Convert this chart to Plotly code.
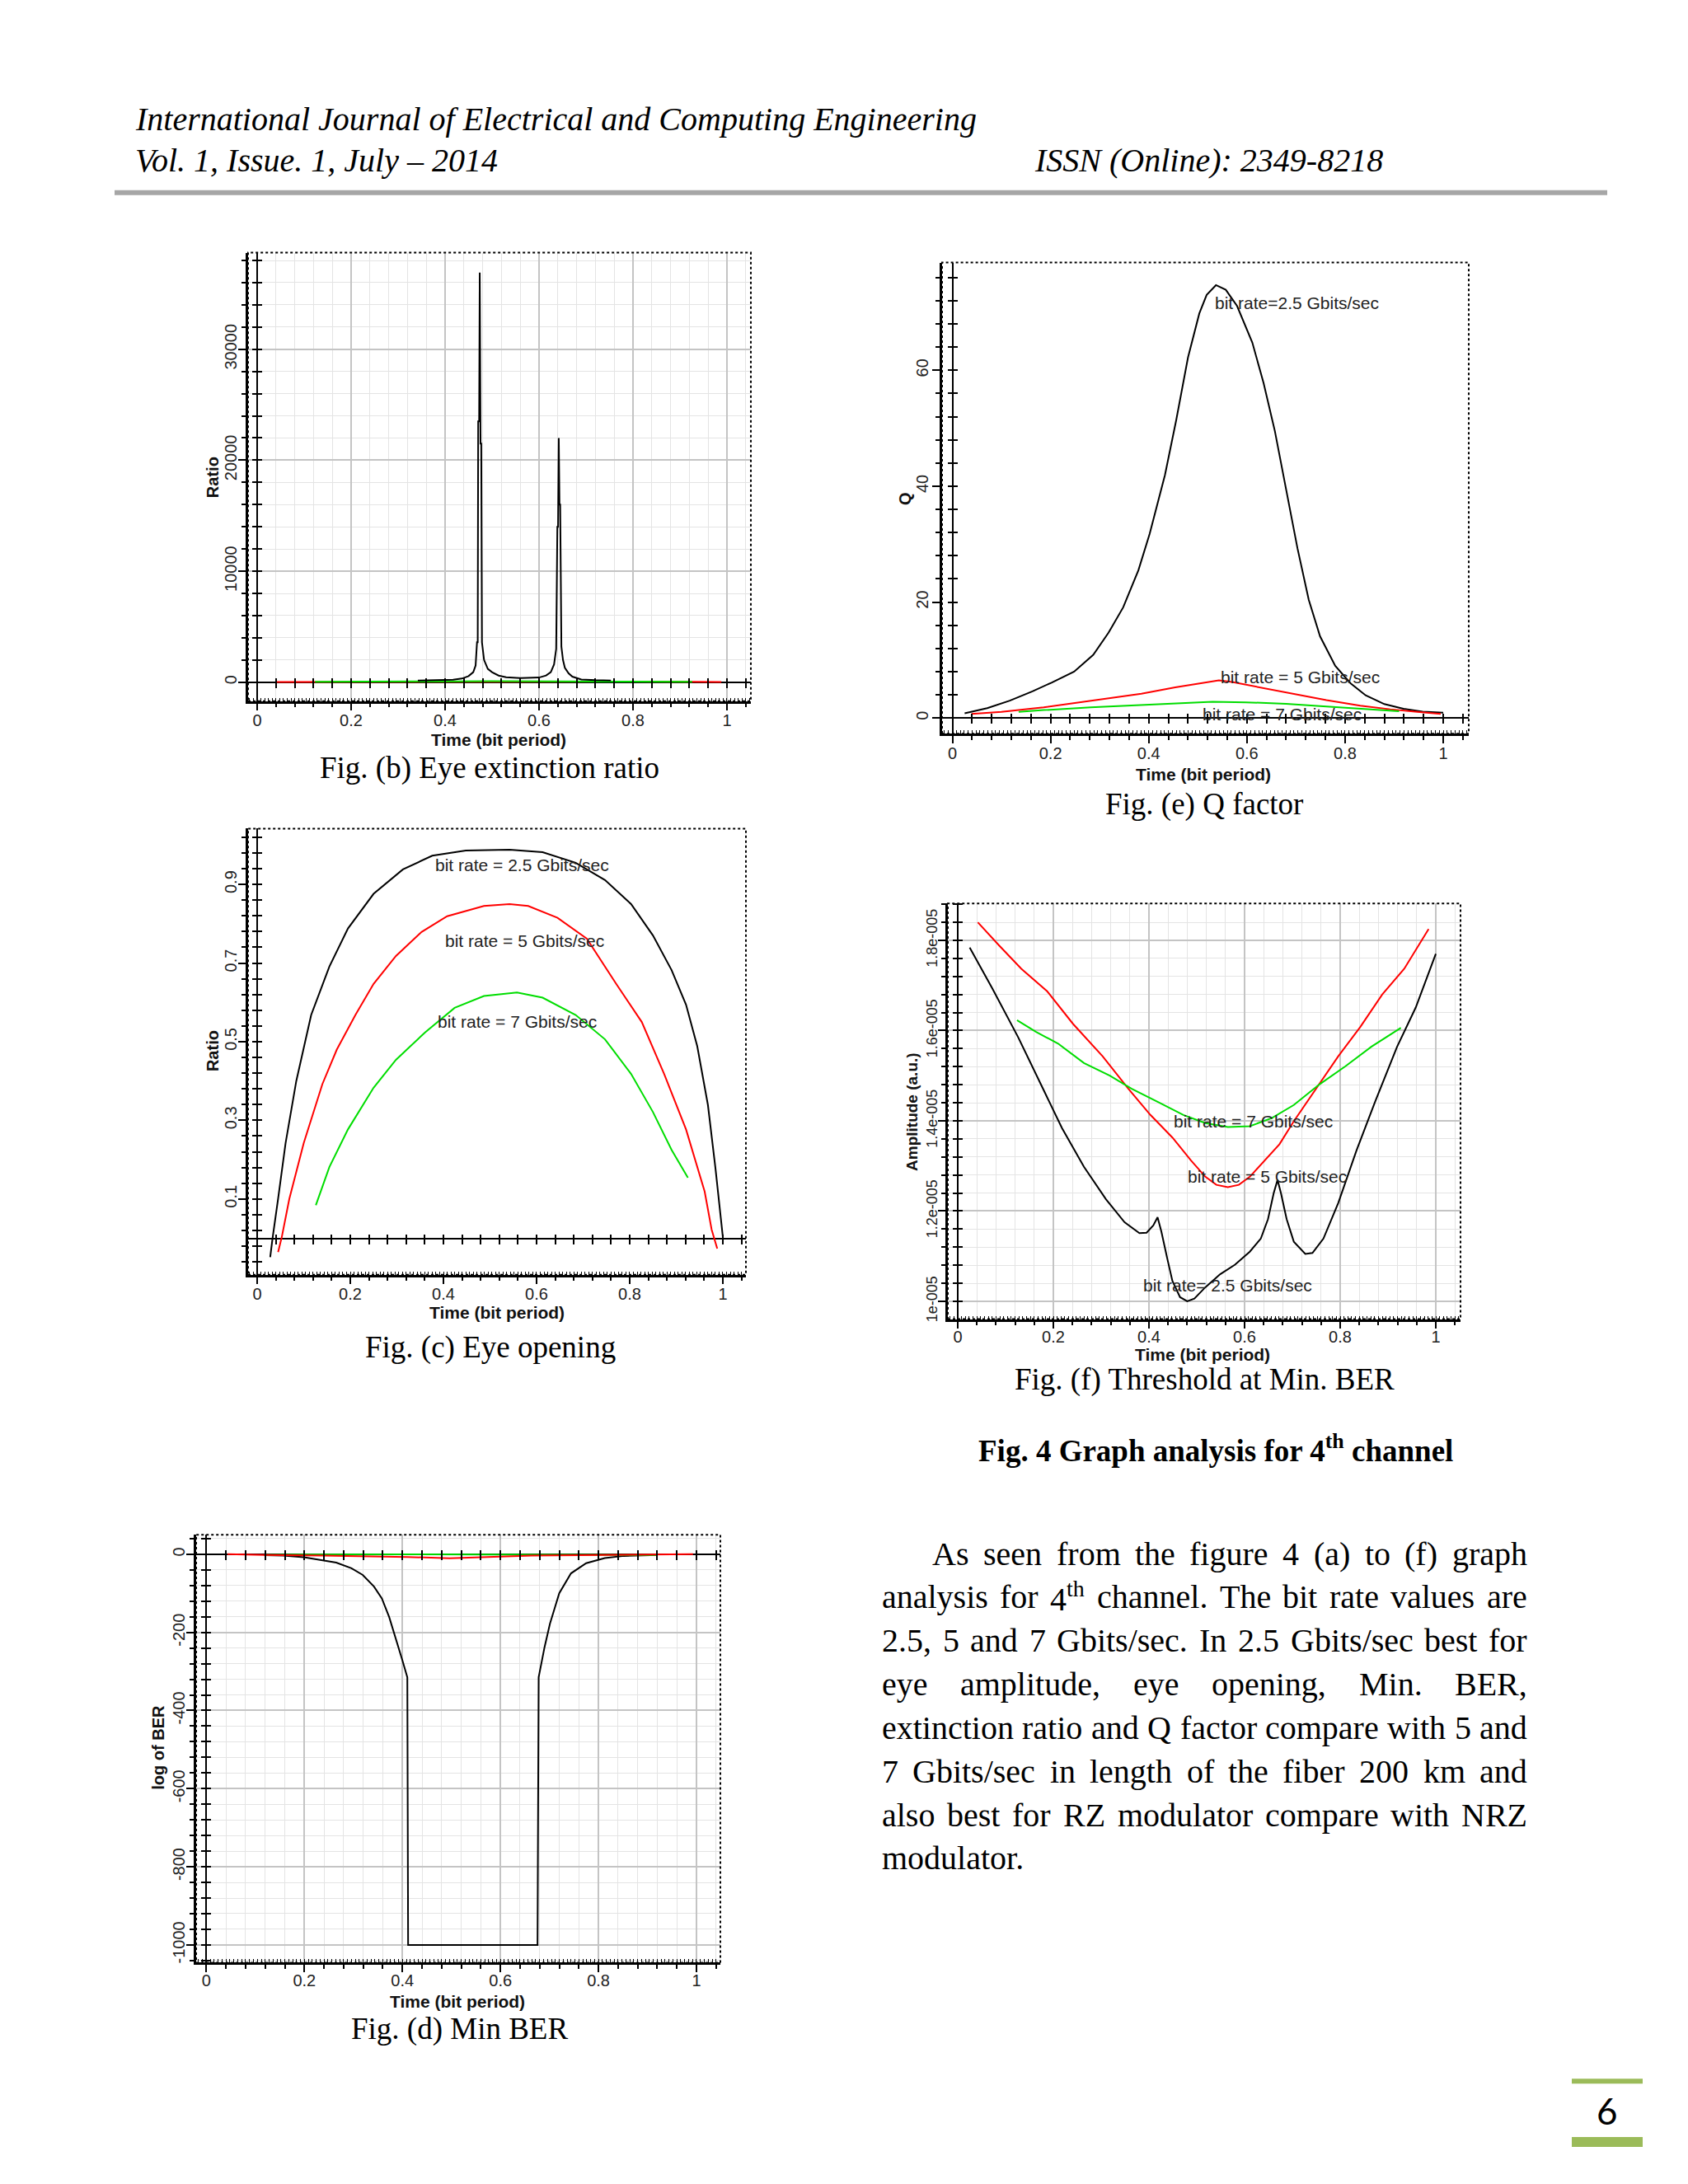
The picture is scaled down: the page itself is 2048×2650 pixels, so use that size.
import re
import plotly.graph_objects as go

# page size; the browser body adds an 8 px margin, so the figure is drawn 8 px in
PAGE_W, PAGE_H = 2048, 2650
OFF = 8
W, H = PAGE_W - 2 * OFF, PAGE_H - 2 * OFF

# ---------------- data ----------------
# Fig (b) Eye extinction ratio
er_time_25 = [0.342, 0.38, 0.417, 0.436, 0.45, 0.46, 0.465, 0.468, 0.4695, 0.4705, 0.4725, 0.4738, 0.4755, 0.477, 0.4785,
              0.483, 0.491, 0.50, 0.514, 0.53, 0.56, 0.60, 0.615, 0.625, 0.632, 0.6365, 0.639, 0.6405, 0.642, 0.6435,
              0.645, 0.6476, 0.651, 0.655, 0.663, 0.671, 0.69, 0.72, 0.753]
er_ratio_25 = [150, 180, 230, 330, 550, 900, 1500, 3600, 3600, 23500, 23500, 36900, 21500, 21500, 3600,
               2000, 1200, 900, 600, 450, 380, 420, 600, 900, 1600, 3000, 14000, 14000, 22000, 16000,
               16000, 3200, 2000, 1300, 800, 500, 250, 180, 150]
er_time_5 = [0.042, 0.123, 0.342, 0.5, 0.753, 0.926, 0.988]
er_ratio_5 = [20, 30, 60, 80, 60, 30, 20]
er_time_7 = [0.123, 0.342, 0.5, 0.753, 0.926]
er_ratio_7 = [30, 60, 90, 60, 30]

# Fig (e) Q factor
q_time_25 = [0.025, 0.071, 0.117, 0.163, 0.202, 0.248, 0.287, 0.318, 0.348, 0.379, 0.402, 0.433, 0.456, 0.48,
             0.503, 0.518, 0.537, 0.557, 0.58, 0.611, 0.634, 0.657, 0.68, 0.703, 0.726, 0.749, 0.78, 0.811,
             0.842, 0.88, 0.919, 0.958, 1.0]
q_25 = [0.8, 1.7, 3.0, 4.6, 6.1, 8.0, 10.9, 14.7, 19.1, 25.5, 31.8, 41.9, 51.4, 62.2, 69.8, 73.0, 74.7, 73.9,
        71.1, 64.8, 57.8, 49.5, 39.4, 29.3, 20.4, 14.1, 9.0, 6.0, 3.9, 2.4, 1.6, 1.1, 0.9]
q_time_5 = [0.039, 0.1, 0.186, 0.282, 0.385, 0.454, 0.509, 0.543, 0.57, 0.625, 0.694, 0.762, 0.831, 0.892,
            0.947, 0.995]
q_5 = [0.71, 1.04, 1.84, 2.93, 4.2, 5.3, 6.0, 6.5, 6.2, 5.3, 4.1, 3.07, 2.13, 1.5, 1.04, 0.71]
q_time_7 = [0.135, 0.186, 0.282, 0.385, 0.454, 0.53, 0.598, 0.68, 0.762, 0.831, 0.91]
q_7 = [1.04, 1.36, 1.84, 2.2, 2.46, 2.79, 2.7, 2.46, 1.98, 1.6, 1.18]

# Fig (c) Eye opening
eo_time_25 = [0.028, 0.033, 0.045, 0.061, 0.084, 0.116, 0.155, 0.195, 0.25, 0.313, 0.376, 0.448, 0.542, 0.613,
              0.684, 0.747, 0.803, 0.85, 0.89, 0.921, 0.945, 0.968, 0.984, 1.0]
eo_25 = [-0.048, 0.0, 0.101, 0.242, 0.4, 0.568, 0.691, 0.788, 0.876, 0.938, 0.973, 0.986, 0.988, 0.982, 0.955,
         0.911, 0.85, 0.77, 0.682, 0.594, 0.489, 0.339, 0.18, 0.004]
eo_time_5 = [0.045, 0.053, 0.069, 0.1, 0.14, 0.171, 0.211, 0.25, 0.298, 0.353, 0.408, 0.487, 0.542, 0.582,
             0.645, 0.708, 0.771, 0.826, 0.874, 0.921, 0.961, 0.976, 0.988]
eo_5 = [-0.035, 0.004, 0.1, 0.242, 0.392, 0.48, 0.568, 0.647, 0.718, 0.779, 0.819, 0.845, 0.85, 0.845, 0.815,
        0.762, 0.647, 0.55, 0.418, 0.277, 0.119, 0.022, -0.026]
eo_time_7 = [0.126, 0.155, 0.195, 0.25, 0.298, 0.361, 0.424, 0.487, 0.558, 0.613, 0.684, 0.747, 0.803, 0.85,
             0.89, 0.925]
eo_7 = [0.084, 0.181, 0.277, 0.383, 0.454, 0.524, 0.586, 0.616, 0.625, 0.612, 0.568, 0.506, 0.418, 0.321,
        0.225, 0.154]

# Fig (f) Threshold at Min. BER
th_time_25 = [0.025, 0.072, 0.126, 0.172, 0.218, 0.264, 0.31, 0.349, 0.38, 0.395, 0.409, 0.418, 0.426, 0.438,
              0.449, 0.465, 0.48, 0.495, 0.518, 0.549, 0.58, 0.611, 0.634, 0.649, 0.661, 0.669, 0.676, 0.688,
              0.703, 0.727, 0.742, 0.765, 0.796, 0.834, 0.873, 0.919, 0.958, 1.0]
th_25 = [1.784e-5, 1.694e-5, 1.586e-5, 1.485e-5, 1.384e-5, 1.298e-5, 1.226e-5, 1.175e-5, 1.151e-5, 1.152e-5,
         1.168e-5, 1.186e-5, 1.154e-5, 1.096e-5, 1.045e-5, 1.009e-5, 1.000e-5, 1.006e-5, 1.031e-5, 1.060e-5,
         1.081e-5, 1.110e-5, 1.139e-5, 1.182e-5, 1.240e-5, 1.269e-5, 1.240e-5, 1.182e-5, 1.132e-5, 1.105e-5,
         1.107e-5, 1.139e-5, 1.218e-5, 1.334e-5, 1.442e-5, 1.564e-5, 1.651e-5, 1.770e-5]
th_time_5 = [0.042, 0.087, 0.133, 0.187, 0.241, 0.303, 0.357, 0.403, 0.449, 0.488, 0.518, 0.541, 0.565, 0.588,
             0.611, 0.642, 0.673, 0.703, 0.75, 0.796, 0.842, 0.888, 0.934, 0.985]
th_5 = [1.840e-5, 1.788e-5, 1.737e-5, 1.687e-5, 1.615e-5, 1.543e-5, 1.471e-5, 1.413e-5, 1.363e-5, 1.312e-5,
        1.276e-5, 1.258e-5, 1.253e-5, 1.258e-5, 1.276e-5, 1.312e-5, 1.348e-5, 1.399e-5, 1.471e-5, 1.543e-5,
        1.608e-5, 1.680e-5, 1.737e-5, 1.825e-5]
th_time_7 = [0.124, 0.164, 0.21, 0.264, 0.318, 0.364, 0.418, 0.472, 0.518, 0.565, 0.611, 0.657, 0.703, 0.757,
             0.811, 0.865, 0.927]
th_7 = [1.623e-5, 1.597e-5, 1.571e-5, 1.528e-5, 1.500e-5, 1.471e-5, 1.442e-5, 1.413e-5, 1.395e-5, 1.386e-5,
        1.388e-5, 1.406e-5, 1.435e-5, 1.481e-5, 1.521e-5, 1.564e-5, 1.606e-5]

# Fig (d) Min BER
ber_time_25 = [0.118, 0.157, 0.199, 0.234, 0.265, 0.296, 0.319, 0.342, 0.358, 0.373, 0.388, 0.4, 0.41, 0.4116,
               0.6757, 0.6765, 0.678, 0.69, 0.701, 0.72, 0.744, 0.775, 0.813, 0.852, 0.921]
ber_25 = [-2.6, -3.4, -7.7, -14.6, -21.5, -36, -53, -83, -113, -161, -221, -272, -315, -1000,
          -1000, -663, -315, -238, -178, -100, -49, -23, -10, -4.3, -1.7]
ber_time_5 = [0.043, 0.118, 0.238, 0.41, 0.496, 0.588, 0.664, 0.812, 0.921, 0.993]
ber_5 = [0, -2, -3.5, -7, -10.4, -7, -3.5, -2, 0, 0]
ber_time_7 = [0.118, 0.2, 0.41, 0.698, 0.853, 0.921]
ber_7 = [-2, -1, -0.5, -1, -2, -2]

# tick labels
x_tick_vals = [0, 0.2, 0.4, 0.6, 0.8, 1]
er_tick_vals = [0, 10000, 20000, 30000]
er_tick_text = ['0', '10000', '20000', '30000']
q_tick_vals = [0, 20, 40, 60]
q_tick_text = ['0', '20', '40', '60']
eo_tick_vals = [0.1, 0.3, 0.5, 0.7, 0.9]
eo_tick_text = ['0.1', '0.3', '0.5', '0.7', '0.9']
th_tick_vals = [1.0e-5, 1.2e-5, 1.4e-5, 1.6e-5, 1.8e-5]
th_tick_text = ['1e-005', '1.2e-005', '1.4e-005', '1.6e-005', '1.8e-005']
ber_tick_vals = [0, -200, -400, -600, -800, -1000]
ber_tick_text = ['0', '-200', '-400', '-600', '-800', '-1000']

# ---------------- styles ----------------
BLACK, RED, GREEN = '#000000', '#ff0000', '#00dd00'
SERIF = 'Liberation Serif, Times New Roman, serif'
SANS = 'Liberation Sans, Arial, sans-serif'
TICK_FONT = dict(family=SANS, size=20, color='#222222')
LABEL_FONT = dict(family=SANS, size=21, color='#222222')
TITLE_FONT = dict(family=SANS, size=21, color='#111111')
GRID_MAJ, GRID_MIN = '#c4c4c4', '#e4e4e4'

fig = go.Figure()
axes = {}
annotations = []
shapes = []
count = {'x': 0, 'y': 0}


def new_axis(kind):
    count[kind] += 1
    n = count[kind]
    return (f'{kind}axis' if n == 1 else f'{kind}axis{n}'), (kind if n == 1 else f'{kind}{n}')


def px_x(px):
    return (px - OFF) / W


def px_y(py):
    return 1 - (py - OFF) / H


def panel(p):
    L, R, T, B = p['frame']
    xr, yr = p['xr'], p['yr']
    grid = p['grid']
    xk, xref = new_axis('x')
    yk, yref = new_axis('y')
    tick_common = dict(tickwidth=1.5, tickcolor='black')
    axes[xk] = dict(domain=[px_x(L), px_x(R)], range=xr, anchor=yref, side='bottom', fixedrange=True,
                    showline=True, linecolor='black', linewidth=2.5,
                    tickmode='array', tickvals=x_tick_vals, ticks='outside', ticklen=9,
                    tickfont=TICK_FONT, ticklabelstandoff=p.get('xstand', -5),
                    showgrid=grid, gridcolor=GRID_MAJ, gridwidth=1.5,
                    zeroline=True, zerolinecolor='black', zerolinewidth=2,
                    minor=dict(tickmode='linear', tick0=0, dtick=0.04, ticks='outside', ticklen=5,
                               showgrid=grid, gridcolor=GRID_MIN, gridwidth=1, **tick_common),
                    **tick_common)
    axes[yk] = dict(domain=[px_y(B), px_y(T)], range=yr, anchor=xref, side='left', fixedrange=True,
                    showline=True, linecolor='black', linewidth=2.5,
                    tickmode='array', tickvals=p['yvals'], ticktext=p['ytext'], tickangle=-90,
                    ticks='outside', ticklen=9, tickfont=p.get('ytickfont', TICK_FONT),
                    ticklabelstandoff=p.get('ystand', -6),
                    showgrid=grid, gridcolor=GRID_MAJ, gridwidth=1.5,
                    zeroline=(yr[0] < 0 < yr[1]), zerolinecolor='black', zerolinewidth=2,
                    minor=dict(tickmode='linear', tick0=p['ymin0'], dtick=p['ymind'], ticks='outside', ticklen=5,
                               showgrid=grid, gridcolor=GRID_MIN, gridwidth=1, **tick_common),
                    **tick_common)
    # fine ticks along the bottom frame
    fk, fref = new_axis('x')
    axes[fk] = dict(overlaying=xref, anchor=yref, side='bottom', range=xr, fixedrange=True,
                    showline=False, showgrid=False, zeroline=False, showticklabels=False,
                    tickmode='linear', tick0=0, dtick=0.008, ticks='inside', ticklen=4,
                    tickwidth=1.2, tickcolor='black')
    fig.add_trace(go.Scatter(x=[], y=[], xaxis=fref, yaxis=yref, showlegend=False, hoverinfo='skip'))
    # ticks crossing the zero lines
    px0 = L + (0 - xr[0]) / (xr[1] - xr[0]) * (R - L)
    if yr[0] < 0 < yr[1]:
        py0 = T + (yr[1] - 0) / (yr[1] - yr[0]) * (B - T)
        ck, cref = new_axis('x')
        axes[ck] = dict(overlaying=xref, anchor='free', position=px_y(py0 - 6), side='bottom', range=xr,
                        fixedrange=True, showline=False, showgrid=False, zeroline=False,
                        showticklabels=False, tickmode='linear', tick0=0, dtick=0.04,
                        ticks='outside', ticklen=12, tickwidth=1.5, tickcolor='black')
        fig.add_trace(go.Scatter(x=[], y=[], xaxis=cref, yaxis=yref, showlegend=False, hoverinfo='skip'))
    ck, cref = new_axis('y')
    axes[ck] = dict(overlaying=yref, anchor='free', position=px_x(px0 + 6), side='left', range=yr,
                    fixedrange=True, showline=False, showgrid=False, zeroline=False,
                    showticklabels=False, tickmode='linear', tick0=p['ymin0'], dtick=p['ymind'],
                    ticks='outside', ticklen=12, tickwidth=1.5, tickcolor='black')
    fig.add_trace(go.Scatter(x=[], y=[], xaxis=xref, yaxis=cref, showlegend=False, hoverinfo='skip'))

    for xs, ys, col in p['series']:
        fig.add_trace(go.Scatter(x=xs, y=ys, mode='lines', line=dict(color=col, width=2),
                                 xaxis=xref, yaxis=yref, showlegend=False, hoverinfo='skip'))
    for txt, lx, ly in p.get('labels', []):
        annotations.append(dict(text=txt, x=lx, y=ly, xref=xref, yref=yref, xanchor='left',
                                yanchor='middle', showarrow=False, font=LABEL_FONT))
    # dotted frame
    shapes.append(dict(type='rect', xref='paper', yref='paper', x0=px_x(L), x1=px_x(R), y0=px_y(B),
                       y1=px_y(T), line=dict(color='black', width=2, dash='dot'), layer='above'))
    # axis titles
    tx, ty = p['xtitle_pos']
    annotations.append(dict(text='<b>Time (bit period)</b>', x=px_x(tx), y=px_y(ty), xref='paper',
                            yref='paper', xanchor='center', yanchor='middle', showarrow=False, font=TITLE_FONT))
    tx, ty = p['ytitle_pos']
    annotations.append(dict(text=f"<b>{p['ytitle']}</b>", x=px_x(tx), y=px_y(ty), xref='paper', yref='paper',
                            xanchor='center', yanchor='middle', showarrow=False, textangle=-90,
                            font=dict(TITLE_FONT, size=p.get('ytitle_size', 20))))


panels = [
    dict(frame=(301, 911, 307, 852), xr=[-0.0193, 1.0509], yr=[-1705, 38704], grid=True,
         yvals=er_tick_vals, ytext=er_tick_text, ymin0=0, ymind=2000,
         series=[(er_time_5, er_ratio_5, RED), (er_time_7, er_ratio_7, GREEN), (er_time_25, er_ratio_25, BLACK)],
         xtitle_pos=(605, 899), ytitle_pos=(258, 580), ytitle='Ratio'),
    dict(frame=(1143, 1782, 319, 891.5), xr=[-0.021, 1.052], yr=[-2.7, 78.6], grid=False,
         yvals=q_tick_vals, ytext=q_tick_text, ymin0=0, ymind=4, ystand=-3,
         series=[(q_time_25, q_25, BLACK), (q_time_5, q_5, RED), (q_time_7, q_7, GREEN)],
         labels=[('bit rate=2.5 Gbits/sec', 0.532, 71.6), ('bit rate = 5 Gbits/sec', 0.543, 7.0),
                 ('bit rate = 7 Gbits/sec', 0.507, 0.7)],
         xtitle_pos=(1460, 941), ytitle_pos=(1098, 606), ytitle='Q'),
    dict(frame=(301, 905, 1007, 1549), xr=[-0.0195, 1.0496], yr=[-0.0925, 1.0417], grid=False,
         yvals=eo_tick_vals, ytext=eo_tick_text, ymin0=0.1, ymind=0.04,
         series=[(eo_time_25, eo_25, BLACK), (eo_time_5, eo_5, RED), (eo_time_7, eo_7, GREEN)],
         labels=[('bit rate = 2.5 Gbits/sec', 0.378, 0.949), ('bit rate = 5 Gbits/sec', 0.40, 0.757),
                 ('bit rate = 7 Gbits/sec', 0.384, 0.552)],
         xtitle_pos=(603, 1595), ytitle_pos=(258, 1277), ytitle='Ratio'),
    dict(frame=(1150, 1772, 1098, 1603), xr=[-0.0207, 1.0517], yr=[0.9604e-5, 1.8815e-5], grid=True,
         yvals=th_tick_vals, ytext=th_tick_text, ymin0=1.0e-5, ymind=0.04e-5, xstand=-7,
         ytickfont=dict(TICK_FONT, size=18),
         series=[(th_time_25, th_25, BLACK), (th_time_5, th_5, RED), (th_time_7, th_7, GREEN)],
         labels=[('bit rate = 7 Gbits/sec', 0.449, 1.399e-5), ('bit rate = 5 Gbits/sec', 0.478, 1.276e-5),
                 ('bit rate= 2.5 Gbits/sec', 0.384, 1.035e-5)],
         xtitle_pos=(1459, 1646), ytitle_pos=(1107, 1351), ytitle='Amplitude (a.u.)', ytitle_size=19),
    dict(frame=(238, 874, 1865, 2385), xr=[-0.0209, 1.0488], yr=[-1045.3, 49.9], grid=True,
         yvals=ber_tick_vals, ytext=ber_tick_text, ymin0=0, ymind=40, xstand=-7,
         series=[(ber_time_25, ber_25, BLACK), (ber_time_7, ber_7, GREEN), (ber_time_5, ber_5, RED)],
         xtitle_pos=(555, 2432), ytitle_pos=(192, 2124), ytitle='log of BER'),
]
for p in panels:
    panel(p)


def text_at(txt, x, y, size, anchor='left', family=SERIF, color='black'):
    annotations.append(dict(text=txt, x=px_x(x), y=px_y(y), xref='paper', yref='paper', xanchor=anchor,
                            yanchor='middle', showarrow=False, font=dict(family=family, size=size, color=color)))


# header
text_at('<i>International Journal of Electrical and Computing Engineering</i>', 162, 145, 40)
text_at('<i>Vol. 1, Issue. 1, July – 2014</i>', 162, 195, 40)
text_at('<i>ISSN (Online): 2349-8218</i>', 1253, 195, 40)
shapes.append(dict(type='rect', xref='paper', yref='paper', x0=px_x(139), x1=px_x(1950), y0=px_y(237),
                   y1=px_y(231), line=dict(width=0), fillcolor='#a6a6a6'))

# captions
text_at('Fig. (b) Eye extinction ratio', 594, 933, 37, 'center')
text_at('Fig. (e) Q factor', 1461, 977, 37, 'center')
text_at('Fig. (c) Eye opening', 595, 1637, 37, 'center')
text_at('Fig. (f) Threshold at Min. BER', 1461, 1677, 37, 'center')
text_at('Fig. (d) Min BER', 557, 2466, 37, 'center')
text_at('<b>Fig. 4 Graph analysis for 4<sup>th</sup> channel</b>', 1475, 1760, 37, 'center')

# body paragraph, justified by placing each word (Times metrics, per 1000 em)
TIMES = {' ': 250, '(': 333, ')': 333, ',': 250, '-': 333, '.': 250, '/': 278, ':': 278,
         'A': 722, 'B': 667, 'E': 611, 'G': 722, 'I': 333, 'M': 889, 'N': 722, 'Q': 722, 'R': 667,
         'T': 611, 'Z': 611, 'a': 444, 'b': 500, 'c': 444, 'd': 500, 'e': 444, 'f': 333, 'g': 500,
         'h': 500, 'i': 278, 'k': 500, 'l': 278, 'm': 778, 'n': 500, 'o': 500, 'p': 500, 'r': 333,
         's': 389, 't': 278, 'u': 500, 'v': 500, 'w': 722, 'x': 500, 'y': 500}


def word_width(w, size):
    total = 0.0
    for part, scale in ((re.sub(r'<sup>.*?</sup>', '', w), 1.0),
                        (''.join(re.findall(r'<sup>(.*?)</sup>', w)), 0.7)):
        total += sum(TIMES.get(c, 500) for c in part) * scale
    return total * size / 1000.0


body_lines = [
    'As seen from the figure 4 (a) to (f) graph',
    'analysis for 4<sup>th</sup> channel. The bit rate values are',
    '2.5, 5 and 7 Gbits/sec. In 2.5 Gbits/sec best for',
    'eye amplitude, eye opening, Min. BER,',
    'extinction ratio and Q factor compare with 5 and',
    '7 Gbits/sec in length of the fiber 200 km and',
    'also best for RZ modulator compare with NRZ',
    'modulator.',
]
BODY_SIZE = 40
BODY_LEFT, BODY_RIGHT, BODY_INDENT = 1070, 1853, 1131
for i, line in enumerate(body_lines):
    yline = 1888 + 52.9 * i
    words = line.split(' ')
    left = BODY_INDENT if i == 0 else BODY_LEFT
    widths = [word_width(w, BODY_SIZE) for w in words]
    if i < len(body_lines) - 1 and len(words) > 1:
        gap = (BODY_RIGHT - left - sum(widths)) / (len(words) - 1)
    else:
        gap = TIMES[' '] * BODY_SIZE / 1000.0
    xpos = left
    for w, wd in zip(words, widths):
        text_at(w, xpos - 2, yline, BODY_SIZE)
        xpos += wd + gap

# page number
shapes.append(dict(type='rect', xref='paper', yref='paper', x0=px_x(1907), x1=px_x(1993), y0=px_y(2532),
                   y1=px_y(2526), line=dict(width=0), fillcolor='#9bbb59'))
shapes.append(dict(type='rect', xref='paper', yref='paper', x0=px_x(1907), x1=px_x(1993), y0=px_y(2609),
                   y1=px_y(2597), line=dict(width=0), fillcolor='#9bbb59'))
text_at('6', 1950, 2565, 44, 'center', family='Lato, Open Sans, sans-serif')

fig.update_layout(width=W, height=H, autosize=False, margin=dict(l=0, r=0, t=0, b=0, pad=0),
                  paper_bgcolor='white', plot_bgcolor='white', showlegend=False,
                  annotations=annotations, shapes=shapes, **axes)

fig.write_html('out.html')
